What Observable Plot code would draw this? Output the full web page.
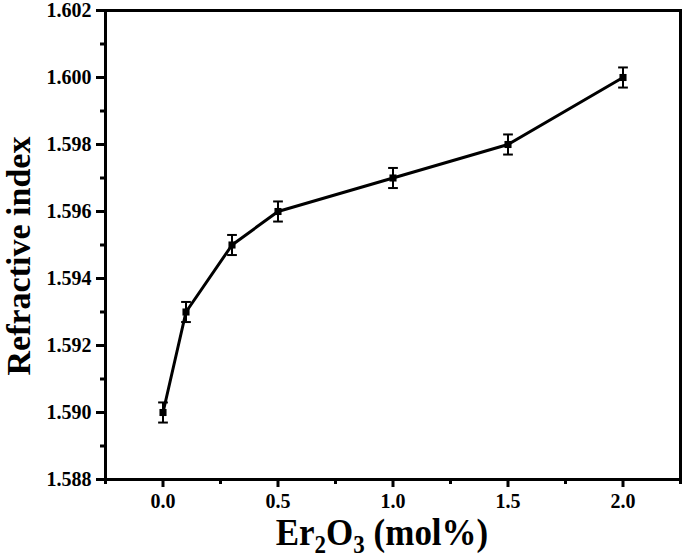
<!DOCTYPE html>
<html><head><meta charset="utf-8">
<script src="https://cdn.jsdelivr.net/npm/d3@7"></script>
<script src="https://cdn.jsdelivr.net/npm/@observablehq/plot@0.6"></script>
<style>
html,body{margin:0;padding:0;background:#fff;}
svg{font-family:"Liberation Serif","Times New Roman",serif;}
</style>
</head><body>
<div id="chart"></div>
<script>
const concentration = [0, 0.1, 0.3, 0.5, 1.0, 1.5, 2.0];
const refractiveIndex = [1.590, 1.593, 1.595, 1.596, 1.597, 1.598, 1.600];
const errors = [0.0003, 0.0003, 0.0003, 0.0003, 0.0003, 0.0003, 0.0003];
const xTicks = [0, 0.5, 1.0, 1.5, 2.0];
const xMinor = [-0.25, 0.25, 0.75, 1.25, 1.75, 2.25];
const yTicks = [1.588, 1.590, 1.592, 1.594, 1.596, 1.598, 1.600, 1.602];
const yMinor = [1.589, 1.591, 1.593, 1.595, 1.597, 1.599, 1.601];

const data = concentration.map((c, i) => ({x: c, y: refractiveIndex[i], e: errors[i]}));

const cap = {draw(ctx, size) { const w = Math.sqrt(size) / 2; ctx.moveTo(-w, 0); ctx.lineTo(w, 0); }};

const chart = Plot.plot({
  width: 685, height: 558,
  marginLeft: 105, marginTop: 10, marginRight: 5, marginBottom: 79,
  style: {fontFamily: '"Liberation Serif","Times New Roman",serif', background: "#fff"},
  x: {domain: [-0.25, 2.25], label: null},
  y: {domain: [1.588, 1.602], label: null},
  marks: [
    Plot.axisX(xTicks, {tickSize: 8, stroke: "black", strokeWidth: 3, tickPadding: 6, tickFormat: d3.format(".1f"), fontSize: 20, fontWeight: "bold"}),
    Plot.axisX(xMinor, {tickSize: 5, stroke: "black", strokeWidth: 3, tickFormat: () => ""}),
    Plot.axisY(yTicks, {tickSize: 9, stroke: "black", strokeWidth: 3, tickPadding: 5, tickFormat: d3.format(".3f"), fontSize: 20, fontWeight: "bold"}),
    Plot.axisY(yMinor, {tickSize: 5, stroke: "black", strokeWidth: 3, tickFormat: () => ""}),
    Plot.frame({stroke: "black", strokeWidth: 3}),
    Plot.line(data, {x: "x", y: "y", stroke: "black", strokeWidth: 3}),
    Plot.ruleX(data, {x: "x", y1: d => d.y - d.e, y2: d => d.y + d.e, stroke: "black", strokeWidth: 2}),
    Plot.dot(data, {x: "x", y: d => d.y - d.e, symbol: cap, r: 5.5, stroke: "black", strokeWidth: 2, fill: "none"}),
    Plot.dot(data, {x: "x", y: d => d.y + d.e, symbol: cap, r: 5.5, stroke: "black", strokeWidth: 2, fill: "none"}),
    Plot.dot(data, {x: "x", y: "y", symbol: "square", r: 4, fill: "black", stroke: "none"})
  ]
});
document.getElementById("chart").appendChild(chart);

const svg = d3.select(chart);

// x-axis title
const xt = svg.append("text")
  .attr("transform", "translate(382,545) scale(1,1.1)")
  .attr("text-anchor", "middle")
  .attr("font-size", 35).attr("font-weight", "bold")
  .attr("font-family", '"Liberation Serif","Times New Roman",serif')
  .attr("fill", "black");
xt.append("tspan").text("Er");
xt.append("tspan").attr("font-size", 23).attr("dy", 7).text("2");
xt.append("tspan").attr("dy", -7).text("O");
xt.append("tspan").attr("font-size", 23).attr("dy", 7).text("3");
xt.append("tspan").attr("dy", -7).text(" (mol%)");
// y-axis title
svg.append("text")
  .attr("transform", "translate(30,256) rotate(-90)")
  .attr("text-anchor", "middle")
  .attr("font-size", 34).attr("font-weight", "bold")
  .attr("font-family", '"Liberation Serif","Times New Roman",serif')
  .attr("fill", "black")
  .text("Refractive index");
</script>
</body></html>
